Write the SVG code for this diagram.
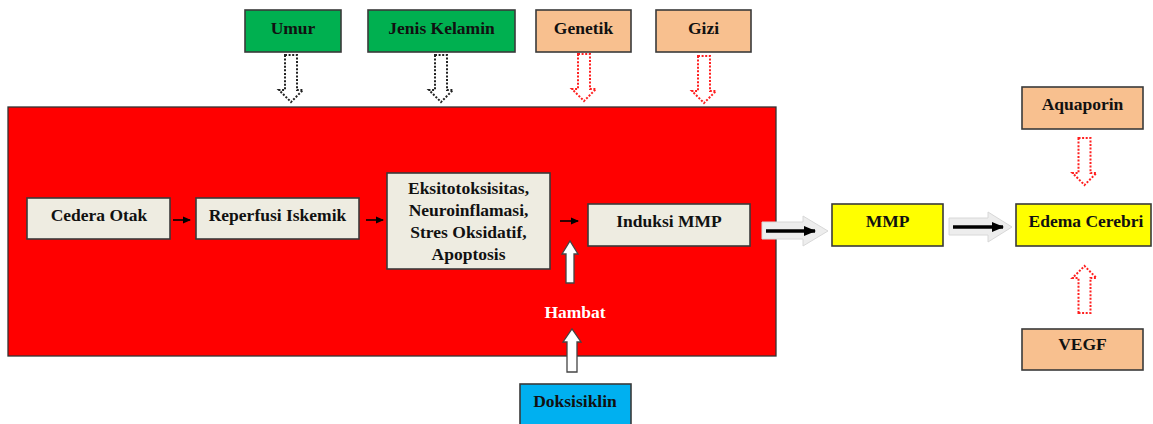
<svg xmlns="http://www.w3.org/2000/svg" width="1153" height="424" viewBox="0 0 1153 424">
<defs>
<style>
.t{font-family:"Liberation Serif","Times New Roman",serif;font-weight:bold;font-size:17.5px;fill:#111;text-anchor:middle}
.b{stroke:#3a3a3a;stroke-width:1.6}
.beige{fill:#EEECE1}
.green{fill:#00B050}
.peach{fill:#F8C08F}
.yellow{fill:#FFFF00}
.cyan{fill:#00B0F0}
.dotk{fill:none;stroke:#222;stroke-width:2;stroke-dasharray:2 1.6}
.dotr{fill:none;stroke:#FF2020;stroke-width:2;stroke-dasharray:2 1.6}
.wa{fill:#fff;stroke:#444;stroke-width:1.3}
.ga{fill:#EDEDED;stroke:#D8D8D8;stroke-width:1}
.sl{stroke:#000;stroke-width:1.6}
.bl{stroke:#000;stroke-width:3.4}
</style>
<path id="dn" d="M-6,0 H6 V35 H12 L0,47 L-12,35 H-6 Z"/>
<path id="up" d="M-6,0 H6 V-35 H12 L0,-47 L-12,-35 H-6 Z"/>
<marker id="ah" markerWidth="8" markerHeight="8" refX="7" refY="4" orient="auto" markerUnits="userSpaceOnUse"><path d="M0,0.5 L8,4 L0,7.5 Z" fill="#000"/></marker>
<marker id="ahb" markerWidth="12" markerHeight="10" refX="11" refY="5" orient="auto" markerUnits="userSpaceOnUse"><path d="M0,0 L12,5 L0,10 Z" fill="#000"/></marker>
</defs>

<rect id="mainArea" x="8" y="107" width="768" height="249" fill="#FF0000" stroke="#333" stroke-width="1.3"/>

<g id="connectors">
<use href="#dn" x="291" y="55" class="dotk"/>
<use href="#dn" x="441" y="55" class="dotk"/>
<use href="#dn" x="584" y="54" class="dotr"/>
<use href="#dn" x="704" y="56" class="dotr"/>
<use href="#dn" x="1084.5" y="138" class="dotr"/>
<use href="#up" x="1084.5" y="313" class="dotr"/>
<line x1="173" y1="220" x2="190" y2="220" class="sl" marker-end="url(#ah)"/>
<line x1="366" y1="220" x2="383" y2="220" class="sl" marker-end="url(#ah)"/>
<line x1="560" y1="221" x2="578" y2="221" class="sl" marker-end="url(#ah)"/>
<path d="M566,283 V254 H562 L570,241 L578,254 H574 V283 Z" class="wa"/>
<path d="M567,372 V342 H563 L572,329 L581,342 H577 V372 Z" class="wa"/>
<path d="M762,222 H803 V216 L828,231 L803,246 V239 H762 Z" class="ga"/>
<line x1="766" y1="231" x2="815" y2="231" class="bl" marker-end="url(#ahb)"/>
<path d="M949,218 H988 V212 L1012,227 L988,242 V235 H949 Z" class="ga"/>
<line x1="953" y1="227" x2="1003" y2="227" class="bl" marker-end="url(#ahb)"/>
</g>

<g id="umur"><rect x="245" y="10" width="96" height="42" class="green b"/><text x="293" y="34" class="t">Umur</text></g>
<g id="jenisKelamin"><rect x="368" y="10" width="147" height="42" class="green b"/><text x="441.5" y="34" class="t">Jenis Kelamin</text></g>
<g id="genetik"><rect x="536" y="10" width="95" height="42" class="peach b"/><text x="583.5" y="34" class="t">Genetik</text></g>
<g id="gizi"><rect x="656" y="10" width="95" height="42" class="peach b"/><text x="703.5" y="34" class="t">Gizi</text></g>

<g id="cederaOtak"><rect x="27" y="198" width="143" height="41" class="beige b"/><text x="99" y="221" class="t">Cedera Otak</text></g>
<g id="reperfusi"><rect x="196" y="198" width="163" height="41" class="beige b"/><text x="277.5" y="221" class="t">Reperfusi Iskemik</text></g>
<g id="eksitotoksisitas"><rect x="387" y="173" width="163" height="96" class="beige b"/>
<text class="t" x="468.5" y="194">Eksitotoksisitas,</text>
<text class="t" x="468.5" y="216">Neuroinflamasi,</text>
<text class="t" x="468.5" y="238">Stres Oksidatif,</text>
<text class="t" x="468.5" y="260">Apoptosis</text></g>
<g id="induksiMMP"><rect x="588" y="204" width="162" height="42" class="beige b"/><text x="669" y="227" class="t">Induksi MMP</text></g>

<g id="hambat"><text x="575" y="318" class="t" style="fill:#fff">Hambat</text></g>
<g id="doksisiklin"><rect x="520" y="384" width="111" height="46" class="cyan b"/><text x="575" y="407" class="t">Doksisiklin</text></g>

<g id="mmp"><rect x="832" y="204" width="111" height="42" class="yellow b"/><text x="887.5" y="227" class="t">MMP</text></g>
<g id="edemaCerebri"><rect x="1016" y="204" width="135" height="42" class="yellow b"/><text x="1086" y="227" class="t">Edema Cerebri</text></g>
<g id="aquaporin"><rect x="1022" y="87" width="121" height="42" class="peach b"/><text x="1082.5" y="110" class="t">Aquaporin</text></g>
<g id="vegf"><rect x="1022" y="329" width="121" height="41" class="peach b"/><text x="1082.5" y="350" class="t">VEGF</text></g>
</svg>
